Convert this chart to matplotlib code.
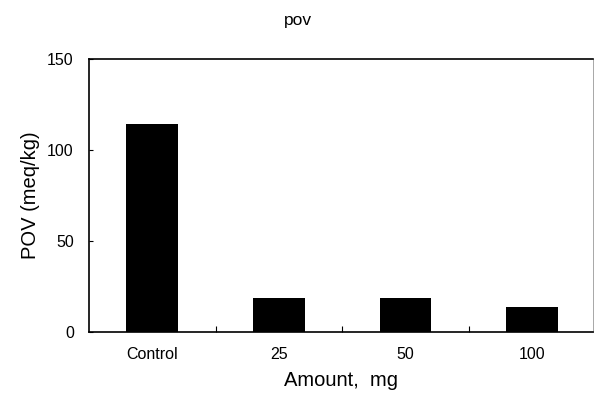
import matplotlib
import matplotlib.pyplot as plt

matplotlib.use('Agg')
plt.rcParams['font.family'] = ['Liberation Sans', 'DejaVu Sans']

categories = ['Control', '25', '50', '100']
pov_values = [114, 18.5, 18.5, 13.8]
y_ticks = [0, 50, 100, 150]

fig = plt.figure(figsize=(5.94, 4.01), dpi=100)
ax = fig.add_axes([0.150, 0.172, 0.848, 0.681])

x = range(len(categories))
ax.bar(x, pov_values, width=0.41, color='black')

ax.set_xlim(-0.5, len(categories) - 0.52)
ax.set_ylim(0, 150)
ax.set_yticks(y_ticks)
ax.set_xticks(list(x))
ax.set_xticklabels(categories)
ax.set_xticks([i + 0.5 for i in range(len(categories) - 1)], minor=True)
ax.tick_params(axis='x', which='major', length=0, pad=11, labelsize=11.5)
ax.tick_params(axis='x', which='minor', direction='in', length=4, width=0.8)
ax.tick_params(axis='y', direction='in', length=3, width=0.8, pad=11, labelsize=11.5)

for side in ['left', 'bottom', 'top']:
    ax.spines[side].set_linewidth(1.2)
ax.spines['right'].set_linewidth(0.6)
ax.spines['right'].set_color('#999999')

ax.set_xlabel('Amount,  mg', fontsize=14.5, labelpad=6)
ax.set_ylabel('POV (meq/kg)', fontsize=14.5, labelpad=5)
fig.text(0.502, 0.95, 'pov', ha='center', va='center', fontsize=12.5)

plt.savefig('out.png', dpi=100)
